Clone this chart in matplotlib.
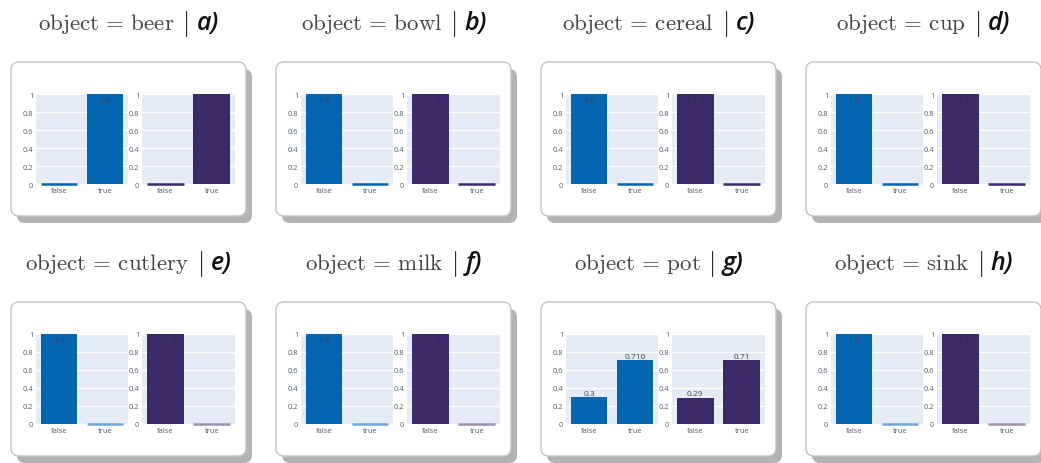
import matplotlib
matplotlib.use("Agg")
import matplotlib.pyplot as plt
from matplotlib.patches import FancyBboxPatch

# ---- data -------------------------------------------------------------
objects = ["beer", "bowl", "cereal", "cup", "cutlery", "milk", "pot", "sink"]
letters = ["a", "b", "c", "d", "e", "f", "g", "h"]
categories = ["false", "true"]

blue_false = [0.0, 1.0, 1.0, 1.0, 1.0, 1.0, 0.3, 1.0]
blue_true = [1.0, 0.0, 0.0, 0.0, 0.0, 0.0, 0.71, 0.0]
purple_false = [0.0, 1.0, 1.0, 1.0, 1.0, 1.0, 0.29, 1.0]
purple_true = [1.0, 0.0, 0.0, 0.0, 0.0, 0.0, 0.71, 0.0]

blue_false_text = ["", "1.0", "1.0", "1.0", "1.0", "1.0", "0.3", "1.0"]
blue_true_text = ["1.0", "", "", "", "", "", "0.710", ""]
purple_false_text = ["", "1.0", "1.0", "1.0", "1.0", "1.0", "0.29", "1.0"]
purple_true_text = ["1.0", "", "", "", "", "", "0.71", ""]

# panels whose empty bars are drawn in a lighter tint
light_empty = [False, False, False, False, True, True, False, True]

y_ticks = [0, 0.2, 0.4, 0.6, 0.8, 1.0]
y_tick_labels = ["0", "0.2", "0.4", "0.6", "0.8", "1"]

# ---- style ------------------------------------------------------------
BLUE = "#0466b0"
PURPLE = "#3b2968"
BLUE_LIGHT = "#70a9d9"
PURPLE_LIGHT = "#9b90b3"
PLOT_BG = "#e5ecf6"
TICK_COLOR = "#4f5b6b"
SANS = ["Open Sans", "DejaVu Sans"]

W, H = 1041, 464
fig = plt.figure(figsize=(W / 100, H / 100), dpi=100)
fig.patch.set_facecolor("white")

# pixel-space canvas for the card frames and titles
canvas = fig.add_axes([0, 0, 1, 1], zorder=0)
canvas.set_xlim(0, W)
canvas.set_ylim(H, 0)
canvas.axis("off")

col_left = [11, 276, 541, 806]
row_top = [63, 303]
title_y = [21, 261]
box_w, box_h = 235, 154
gap = 11  # space either side of the separator bar


def px_axes(x0, y0, w, h):
    return fig.add_axes([x0 / W, 1 - (y0 + h) / H, w / W, h / H], zorder=2)


def draw_bars(ax, vals, texts, color, light_color):
    xs = range(len(categories))
    for x, v, t in zip(xs, vals, texts):
        c = light_color if v == 0 else color
        ax.bar(x, v, width=0.8, color=c, zorder=3)
        if v == 0:
            # keep empty categories visible as a thin stub on the baseline
            ax.hlines(v, x - 0.4, x + 0.4, color=c, lw=1.8, zorder=3,
                      clip_on=False)
        if t:
            if v > 0.9:
                ax.text(x, v - 0.035, t, ha="center", va="top", fontsize=6,
                        color="#3a4356", family=SANS, zorder=4)
            else:
                ax.text(x, v + 0.005, t, ha="center", va="bottom", fontsize=6,
                        color="#3a4356", family=SANS, zorder=4)
    ax.set_xlim(-0.5, 1.5)
    ax.set_ylim(0, 1)
    ax.set_facecolor(PLOT_BG)
    for s in ax.spines.values():
        s.set_visible(False)
    ax.set_yticks(y_ticks)
    ax.set_yticklabels(y_tick_labels, family=SANS)
    ax.set_xticks(list(xs))
    ax.set_xticklabels(categories, family=SANS)
    ax.tick_params(length=0, labelsize=5.4, colors=TICK_COLOR, pad=2)
    ax.grid(axis="y", color="white", lw=0.9, zorder=1)
    ax.set_axisbelow(True)


titles = []
for i, obj in enumerate(objects):
    r, c = divmod(i, 4)
    bx, by = col_left[c], row_top[r]

    # shadow and card
    canvas.add_patch(FancyBboxPatch((bx + 6, by + 7), box_w, box_h,
                                    boxstyle="round,pad=0,rounding_size=8",
                                    fc="#b3b3b3", ec="none", zorder=1))
    canvas.add_patch(FancyBboxPatch((bx, by), box_w, box_h,
                                    boxstyle="round,pad=0,rounding_size=8",
                                    fc="white", ec="#c4c4c4", lw=1.0, zorder=2))

    ax1 = px_axes(bx + 25, by + 32, 92, 90)
    draw_bars(ax1, [blue_false[i], blue_true[i]],
              [blue_false_text[i], blue_true_text[i]],
              BLUE, BLUE_LIGHT if light_empty[i] else BLUE)
    ax2 = px_axes(bx + 131, by + 32, 93, 90)
    draw_bars(ax2, [purple_false[i], purple_true[i]],
              [purple_false_text[i], purple_true_text[i]],
              PURPLE, PURPLE_LIGHT if light_empty[i] else PURPLE)

    yb = title_y[r]
    t1 = canvas.text(0, yb, r"$\mathrm{object}\,=\,\mathrm{%s}$" % obj,
                     fontsize=16.5, color="#444444", ha="right",
                     va="center_baseline", math_fontfamily="cm", zorder=5)
    t2 = canvas.text(0, yb + 3, r"$|$", fontsize=19, color="#111111",
                     ha="center", va="center", math_fontfamily="cm", zorder=5)
    t3 = canvas.text(0, yb, letters[i] + ")",
                     fontsize=18, color="#111111", ha="left",
                     va="center_baseline", family=SANS, style="italic",
                     weight="semibold", zorder=5)
    titles.append((t1, t2, t3, bx + box_w / 2))

# centre each composite title over its card, separator bar in between
fig.canvas.draw()
renderer = fig.canvas.get_renderer()
for t1, t2, t3, cx in titles:
    w1 = t1.get_window_extent(renderer).width
    w3 = t3.get_window_extent(renderer).width
    x_bar = cx - (w1 + w3 + 2 * gap) / 2 + w1 + gap
    t1.set_x(x_bar - gap)
    t2.set_x(x_bar)
    t3.set_x(x_bar + gap)

fig.savefig("out.png", dpi=100, facecolor="white")
